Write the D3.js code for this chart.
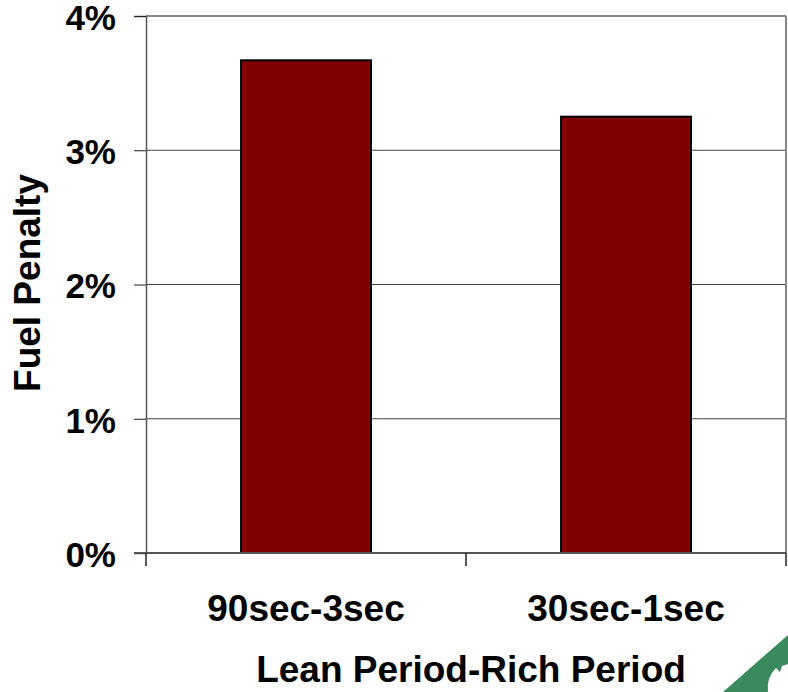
<!DOCTYPE html>
<html>
<head>
<meta charset="utf-8">
<script src="https://cdn.jsdelivr.net/npm/d3@7"></script>
<style>
  body { margin: 0; background: #fff; }
  text { font-family: "Liberation Sans", Arial, sans-serif; font-weight: bold; fill: #000; }
</style>
</head>
<body>
<svg width="788" height="692"></svg>
<script>
var categories = ["90sec-3sec", "30sec-1sec"];
var penalty = [3.67, 3.25];
var yTicks = [0, 1, 2, 3, 4];

var svg = d3.select("svg"),
    width = +svg.attr("width"),
    height = +svg.attr("height");

var plotLeft = 146, plotRight = 786, plotTop = 16, plotBottom = 553;

var x = d3.scaleBand()
    .domain(categories)
    .range([plotLeft, plotRight])
    .paddingInner(0.594)
    .paddingOuter(0.297);

var y = d3.scaleLinear()
    .domain([0, 4])
    .range([plotBottom, plotTop]);

// gridlines
svg.append("g")
    .selectAll("line")
    .data(yTicks.filter(d => d > 0 && d < 4))
    .join("line")
    .attr("x1", plotLeft).attr("x2", plotRight)
    .attr("y1", d => y(d)).attr("y2", d => y(d))
    .attr("stroke", "#444")
    .attr("stroke-width", 1);

// plot frame top / right
svg.append("line")
    .attr("x1", plotLeft).attr("x2", plotRight)
    .attr("y1", plotTop).attr("y2", plotTop)
    .attr("stroke", "#888").attr("stroke-width", 2);
svg.append("line")
    .attr("x1", plotRight).attr("x2", plotRight)
    .attr("y1", plotTop).attr("y2", plotBottom)
    .attr("stroke", "#888").attr("stroke-width", 2);

// bars
svg.append("g")
    .selectAll("rect")
    .data(categories)
    .join("rect")
    .attr("x", d => x(d))
    .attr("width", x.bandwidth())
    .attr("y", (d, i) => y(penalty[i]))
    .attr("height", (d, i) => y(0) - y(penalty[i]))
    .attr("fill", "#800000")
    .attr("stroke", "#000")
    .attr("stroke-width", 2);

// y axis
var yAxis = svg.append("g")
    .attr("transform", "translate(" + plotLeft + ",0)")
    .call(d3.axisLeft(y).tickValues(yTicks).tickSize(12).tickPadding(18)
        .tickFormat(d => d + "%"));
yAxis.select(".domain").attr("stroke", "#555").attr("stroke-width", 1.5);
yAxis.selectAll(".tick line").attr("stroke", "#222");
yAxis.selectAll("text")
    .style("font-size", "35px")
    .attr("dy", "0.38em");

// x axis: baseline, category separators, labels
var xAxis = svg.append("g")
    .attr("transform", "translate(0," + plotBottom + ")");
xAxis.append("line")
    .attr("x1", plotLeft - 12).attr("x2", plotRight)
    .attr("y1", 0).attr("y2", 0)
    .attr("stroke", "#555").attr("stroke-width", 2);
var seps = [plotLeft].concat(categories.map(d => x(d) + x.bandwidth() + x.step() * x.paddingInner() / 2));
seps[seps.length - 1] = plotRight;
xAxis.selectAll(".sep")
    .data(seps)
    .join("line")
    .attr("class", "sep")
    .attr("x1", d => d).attr("x2", d => d)
    .attr("y1", 0).attr("y2", 13)
    .attr("stroke", "#222").attr("stroke-width", 1.5);
xAxis.selectAll(".cat")
    .data(categories)
    .join("text")
    .attr("class", "cat")
    .attr("x", d => x(d) + x.bandwidth() / 2)
    .attr("y", 68)
    .attr("text-anchor", "middle")
    .style("font-size", "37px")
    .text(d => d);

// axis titles
svg.append("text")
    .attr("x", 471)
    .attr("y", 682)
    .attr("text-anchor", "middle")
    .style("font-size", "37px")
    .text("Lean Period-Rich Period");

svg.append("text")
    .attr("transform", "translate(40,283) rotate(-90)")
    .attr("text-anchor", "middle")
    .style("font-size", "37px")
    .text("Fuel Penalty");

// logo corner
var logo = svg.append("g");
logo.append("path")
    .attr("d", "M723,692 L788,635 L788,692 Z")
    .attr("fill", "#3a8a5e");
logo.append("path")
    .attr("d", "M768,692 Q766,678 776,668 L780,672 L782,666 L788,664 L788,692 Z")
    .attr("fill", "#fff");
</script>
</body>
</html>
